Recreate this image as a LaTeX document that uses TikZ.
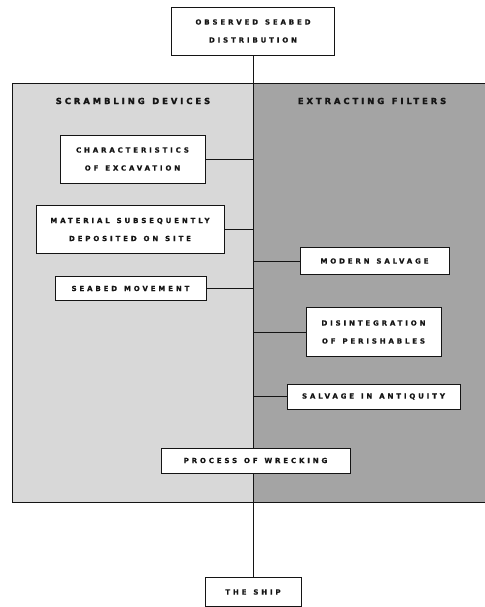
\documentclass[tikz,border=0pt]{standalone}
\usepackage{fontspec}
\newfontfamily\lblfont[LetterSpace=41,WordSpace=1.3,FakeBold=0.8]{DejaVu Sans Bold}
\newfontfamily\headfont[LetterSpace=35,WordSpace=1.3,FakeBold=1.8]{DejaVu Sans Bold}
\definecolor{scramblegray}{RGB}{216,216,216}
\definecolor{filtergray}{RGB}{164,164,164}
\definecolor{inkgray}{RGB}{20,20,20}
\tikzset{
    factor/.style={draw=inkgray, fill=white, line width=0.9pt, align=center,
        inner sep=0pt, text=inkgray, font=\lblfont\fontsize{7}{18}\selectfont},
    heading/.style={text=inkgray, font=\headfont\fontsize{8.4}{10}\selectfont},
    link/.style={draw=inkgray, line width=0.9pt}
}
\begin{document}
\begin{tikzpicture}[x=1pt, y=-1pt]
    \useasboundingbox (0,0) rectangle (484,607);
    % the two panels
    \fill[scramblegray] (12,84) rectangle (253,502);
    \fill[filtergray] (253,84) rectangle (490,502);
    \draw[inkgray, line width=1pt] (490,84) -- (12,84) -- (12,502) -- (490,502);
    \coordinate (spine) at (253,0);
    \node[heading] (scramble) at (133,101) {SCRAMBLING DEVICES};
    \node[heading] (filter) at (372,101) {EXTRACTING FILTERS};
    % top and bottom
    \node[factor, minimum width=163pt, minimum height=48pt] (observed) at (253,31) {OBSERVED SEABED\\DISTRIBUTION};
    \node[factor, minimum width=96pt, minimum height=29pt] (ship) at (253,592) {THE SHIP};
    \draw[link] (observed.south) -- (ship.north);
    % scrambling devices
    \node[factor, minimum width=145pt, minimum height=48pt] (excav) at (132.5,159) {CHARACTERISTICS\\OF EXCAVATION};
    \node[factor, minimum width=188pt, minimum height=48pt] (deposit) at (130,229.5) {MATERIAL SUBSEQUENTLY\\DEPOSITED ON SITE};
    \node[factor, minimum width=151pt, minimum height=24pt] (movement) at (130.5,288.5) {SEABED MOVEMENT};
    % extracting filters
    \node[factor, minimum width=149pt, minimum height=27pt] (modern) at (374.5,261) {MODERN SALVAGE};
    \node[factor, minimum width=135pt, minimum height=49pt] (perish) at (373.5,332) {DISINTEGRATION\\OF PERISHABLES};
    \node[factor, minimum width=173pt, minimum height=25pt] (antiq) at (373.5,396.5) {SALVAGE IN ANTIQUITY};
    \node[factor, minimum width=189pt, minimum height=25pt] (wreck) at (255.5,460.5) {PROCESS OF WRECKING};
    % connectors to the spine
    \foreach \n in {excav, deposit, movement}
        \draw[link] (\n.east) -- (\n.east -| spine);
    \foreach \n in {modern, perish, antiq}
        \draw[link] (\n.west) -- (\n.west -| spine);
\end{tikzpicture}
\end{document}
